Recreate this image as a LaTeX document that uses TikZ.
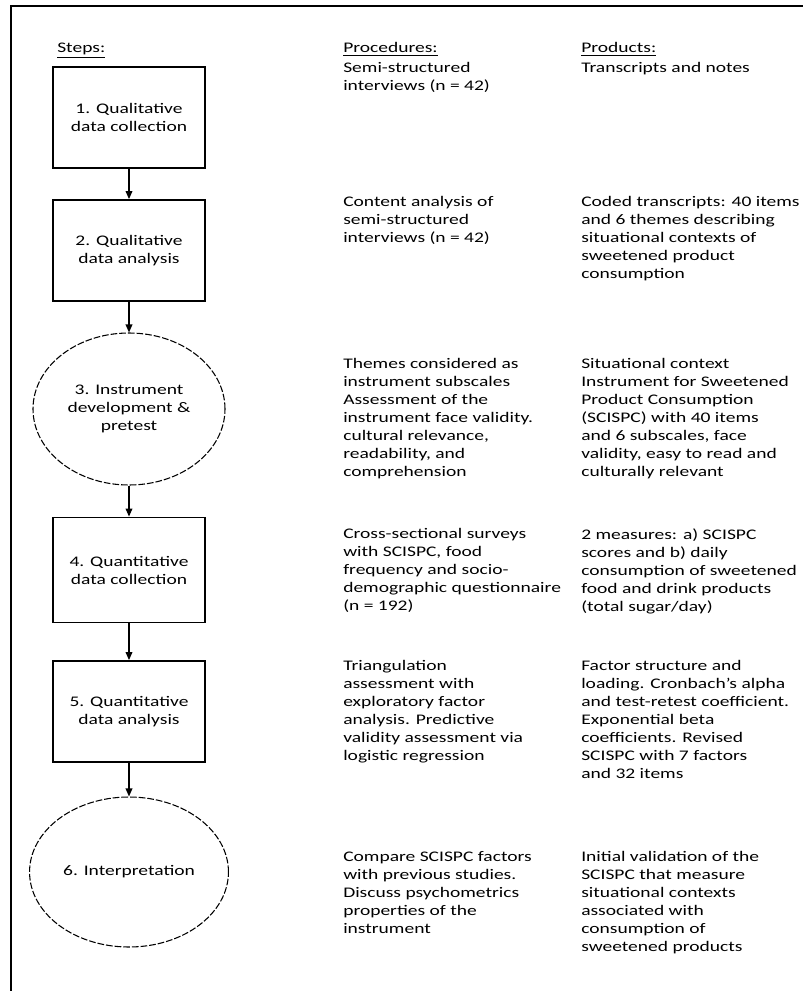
\documentclass[tikz,border=0pt]{standalone}
\usepackage{fontspec}
\setmainfont{Carlito}[FakeStretch=1.33]
\usetikzlibrary{shapes.geometric, arrows.meta}

\tikzset{
  stepbox/.style={draw, line width=1.1pt, minimum width=114pt, minimum height=76pt, align=center},
  stepoval/.style={draw, line width=0.8pt, dash pattern=on 5pt off 1.5pt, ellipse, minimum width=144pt, minimum height=114pt, align=center},
  coltext/.style={anchor=north west, align=left, inner sep=0pt},
  header/.style={anchor=base west, inner sep=0pt},
  flow/.style={line width=1pt, -{Triangle[length=6pt, width=5pt]}}
}

\begin{document}
\begin{tikzpicture}[x=0.75pt, y=-0.75pt, font=\fontsize{11pt}{13.5pt}\selectfont]
  \useasboundingbox (0,0) rectangle (803,991);
  % outer frame (top and left only, cut at right and bottom)
  \draw[line width=1.5pt] (11,991) -- (11,6) -- (803,6);

  % headers
  \node[header] (hsteps) at (57,53) {\underline{Steps:}};
  \node[header] (hproc) at (343,53) {\underline{Procedures:}};
  \node[header] (hprod) at (581,53) {\underline{Products:}};

  % steps
  \node[stepbox] (s1) at (129,117.5) {1. Qualitative\\data collection};
  \node[stepbox] (s2) at (129,250.5) {2. Qualitative\\data analysis};
  \node[stepoval] (s3) at (129,409) {3. Instrument\\development \&\\pretest};
  \node[stepbox, minimum height=79pt] (s4) at (129,570) {4. Quantitative\\data collection};
  \node[stepbox] (s5) at (129,711.5) {5. Quantitative\\data analysis};
  \node[stepoval, minimum height=112.5pt] (s6) at (129,872) {6. Interpretation};

  \draw[flow] (s1) -- (s2);
  \draw[flow] (s2) -- (s3);
  \draw[flow] (s3) -- (s4);
  \draw[flow] (s4) -- (s5);
  \draw[flow] (s5) -- (s6);

  % procedures
  \node[coltext] (p1) at (343,62) {Semi-structured\\interviews (n = 42)};
  \node[coltext] (p2) at (343,196) {Content analysis of\\semi-structured\\interviews (n = 42)};
  \node[coltext] (p3) at (343,358) {Themes considered as\\instrument subscales\\Assessment of the\\instrument face validity.\\cultural relevance,\\readability, and\\comprehension};
  \node[coltext] (p4) at (343,528) {Cross-sectional surveys\\with SCISPC, food\\frequency and socio-\\demographic questionnaire\\(n = 192)};
  \node[coltext] (p5) at (343,660) {Triangulation\\assessment with\\exploratory factor\\analysis. Predictive\\validity assessment via\\logistic regression};
  \node[coltext] (p6) at (343,851) {Compare SCISPC factors\\with previous studies.\\Discuss psychometrics\\properties of the\\instrument};

  % products
  \node[coltext] (q1) at (581,62) {Transcripts and notes};
  \node[coltext] (q2) at (581,196) {Coded transcripts: 40 items\\and 6 themes describing\\situational contexts of\\sweetened product\\consumption};
  \node[coltext] (q3) at (581,358) {Situational context\\Instrument for Sweetened\\Product Consumption\\(SCISPC) with 40 items\\and 6 subscales, face\\validity, easy to read and\\culturally relevant};
  \node[coltext] (q4) at (581,528) {2 measures: a) SCISPC\\scores and b) daily\\consumption of sweetened\\food and drink products\\(total sugar/day)};
  \node[coltext] (q5) at (581,660) {Factor structure and\\loading. Cronbach's alpha\\and test-retest coefficient.\\Exponential beta\\coefficients. Revised\\SCISPC with 7 factors\\and 32 items};
  \node[coltext] (q6) at (581,851) {Initial validation of the\\SCISPC that measure\\situational contexts\\associated with\\consumption of\\sweetened products};
\end{tikzpicture}
\end{document}
